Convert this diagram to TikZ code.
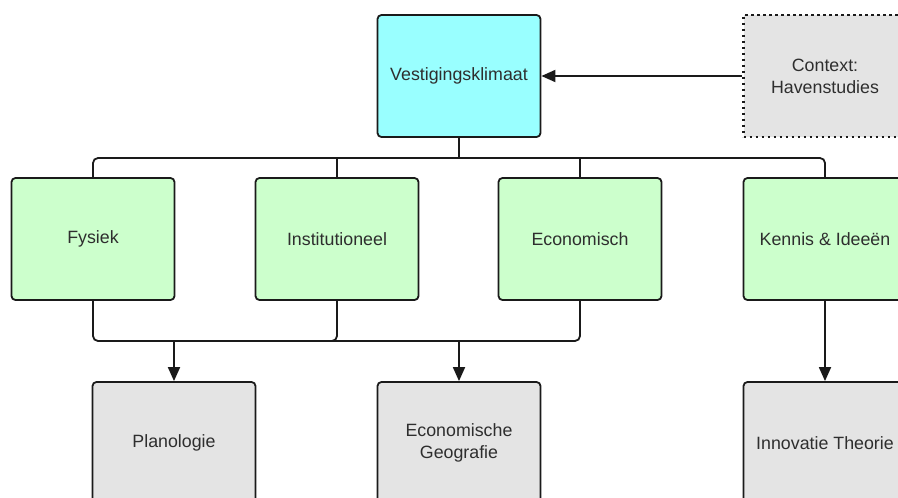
\documentclass[tikz,border=0pt]{standalone}
\usepackage{fontspec}
\setmainfont{Liberation Sans}
\usetikzlibrary{arrows.meta}
\definecolor{topfill}{HTML}{99FFFF}
\definecolor{midfill}{HTML}{CCFFCC}
\definecolor{lowfill}{HTML}{E4E4E4}
\definecolor{txt}{HTML}{2E2E2E}
\definecolor{edge}{HTML}{1A1A1A}
\tikzset{
  box/.style={draw=edge, line width=1.8pt, rounded corners=4pt,
    minimum width=163pt, minimum height=122pt, inner sep=0pt,
    align=center, text=txt, font=\fontsize{17.8}{22}\selectfont},
  topbox/.style={box, fill=topfill},
  midbox/.style={box, fill=midfill},
  lowbox/.style={box, fill=lowfill},
  ctxbox/.style={box, fill=lowfill, rounded corners=0pt, line width=2.2pt,
    dash pattern=on 2.2pt off 3.8pt},
  link/.style={draw=edge, line width=1.8pt, rounded corners=5pt},
  arrowlink/.style={link, -{Triangle[length=14pt,width=12pt]}},
}
\begin{document}
\begin{tikzpicture}[x=1pt, y=-1pt]
  \useasboundingbox (0,0) rectangle (898,498);
  \clip (0,0) rectangle (898,498);

  % top level
  \node[topbox] (vest) at (459,76) {Vestigingsklimaat};
  \node[ctxbox] (ctx)  at (825,76) {Context:\\Havenstudies};

  % middle level
  \node[midbox] (fys) at (93,239)  {Fysiek};
  \node[midbox] (ins) at (337,239) {Institutioneel};
  \node[midbox] (eco) at (580,239) {Economisch};
  \node[midbox] (ken) at (825,239) {Kennis \& Idee\"en};

  % bottom level
  \node[lowbox] (pla) at (174,443) {Planologie};
  \node[lowbox] (geo) at (459,443) {Economische\\Geografie};
  \node[lowbox] (inn) at (825,443) {Innovatie Theorie};

  % bus coordinates
  \coordinate (upbus) at (459,158);
  \coordinate (lowend) at (580,341);
  \coordinate (insjoin) at (322,341);
  \coordinate (plajoin) at (174,341);
  \coordinate (geojoin) at (459,341);

  % context arrow
  \draw[arrowlink] (ctx.west) -- (vest.east);

  % upper bus
  \draw[link] (vest.south) -- (upbus);
  \draw[link] (fys.north) |- (upbus) -| (ken.north);
  \draw[link] (ins.north) -- (ins.north |- upbus);
  \draw[link] (eco.north) -- (eco.north |- upbus);

  % lower bus
  \draw[link] (fys.south) |- (lowend) -- (eco.south);
  \draw[link] (ins.south) |- (insjoin);
  \draw[arrowlink] (plajoin) -- (pla.north);
  \draw[arrowlink] (geojoin) -- (geo.north);

  % right column
  \draw[arrowlink] (ken.south) -- (inn.north);
\end{tikzpicture}
\end{document}
